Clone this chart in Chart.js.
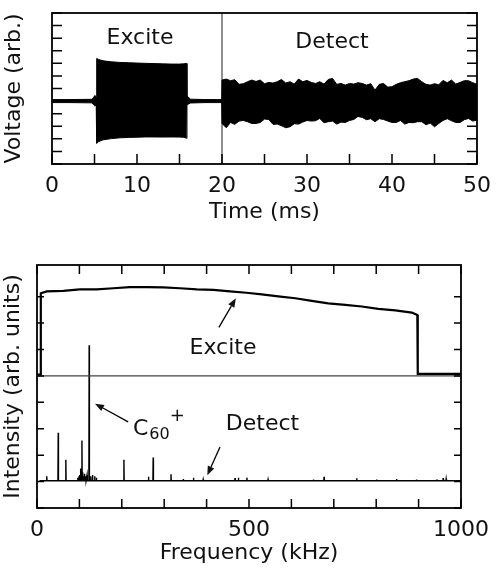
<!DOCTYPE html>
<html>
<head>
<meta charset="utf-8">
<script src="https://cdn.jsdelivr.net/npm/chart.js@4"></script>
<style>
  body { margin: 0; background: #fff; }
  #wrap { position: relative; width: 500px; height: 570px; }
  canvas { position: absolute; left: 0; }
</style>
</head>
<body>
<div id="wrap">
  <canvas id="time-chart" width="500" height="240" style="top:0"></canvas>
  <canvas id="freq-chart" width="500" height="330" style="top:240px"></canvas>
</div>
<script>
// ---- top panel: time-domain trace (envelope) ----
const burstTime  = [0, 2, 4.7, 4.9, 5.05, 5.2, 5.26, 5.5, 6, 7, 8, 9, 10, 11, 12, 13, 14, 15, 15.5, 15.84, 15.88, 16.0, 16.3, 18, 19.97];
const burstUpper = [0.12, 0.12, 0.14, 0.3, 0.45, 0.3, 3.39, 3.3, 3.2, 3.12, 3.07, 3.05, 3.02, 3.0, 2.98, 2.96, 2.94, 2.94, 2.96, 2.99, 0.4, 0.33, 0.15, 0.12, 0.12];
const burstLower = [-0.12, -0.12, -0.14, -0.3, -0.4, -0.3, -3.35, -3.22, -3.08, -2.98, -2.92, -2.89, -2.87, -2.85, -2.85, -2.86, -2.85, -2.86, -2.88, -2.95, -0.3, -0.25, -0.15, -0.12, -0.12];

const detectTime = [20, 20.5, 21, 21.5, 22, 22.5, 23, 23.5, 24, 24.5, 25, 25.5, 26, 26.5, 27, 27.5, 28, 28.5, 29, 29.5,
  30, 30.5, 31, 31.5, 32, 32.5, 33, 33.5, 34, 34.5, 35, 35.5, 36, 36.5, 37, 37.5, 38, 38.5, 39, 39.5,
  40, 40.5, 41, 41.5, 42, 42.5, 43, 43.5, 44, 44.5, 45, 45.5, 46, 46.5, 47, 47.5, 48, 48.5, 49, 49.5, 50];
const detectUpper = [1.67, 1.75, 1.62, 1.70, 1.33, 1.38, 1.54, 1.67, 1.56, 1.67, 1.38, 1.48, 1.43, 1.54, 1.72, 1.43, 1.54, 1.35, 1.75, 1.54,
  1.64, 1.48, 1.40, 1.54, 1.35, 1.72, 1.80, 1.33, 1.40, 1.27, 1.40, 1.35, 1.46, 1.40, 1.27, 1.38, 0.87, 1.33, 1.40, 1.11,
  1.14, 1.33, 1.46, 1.54, 1.62, 1.75, 1.80, 1.54, 1.33, 1.27, 1.38, 1.30, 1.64, 1.46, 1.67, 1.35, 1.48, 1.62, 1.62, 1.46, 1.33];
const detectLower = [-1.78, -2.12, -1.70, -1.85, -1.59, -1.54, -1.64, -1.78, -1.78, -1.70, -1.43, -1.46, -1.85, -1.83, -1.96, -2.12, -2.04, -1.80, -1.83, -1.67,
  -1.54, -1.59, -1.56, -1.38, -1.72, -1.64, -1.59, -1.83, -1.67, -1.70, -1.54, -1.46, -1.22, -1.30, -1.48, -1.40, -1.64, -1.40, -1.46, -1.59,
  -1.70, -1.70, -1.54, -1.83, -1.70, -1.72, -1.64, -1.64, -1.88, -1.75, -2.04, -1.78, -1.54, -1.40, -1.56, -1.70, -1.70, -1.48, -1.38, -1.59, -1.51];

const gateTime = 20;
const timeTickLabels = [0, 10, 20, 30, 40, 50];

// ---- bottom panel: spectra ----
const exciteFreq  = [0, 8, 9, 23, 62, 101, 141, 180, 219, 259, 298, 337, 377, 416, 455, 494, 530, 569, 609, 648, 687, 727, 766, 805, 845, 884, 897, 898, 1000];
const exciteLevel = [5.05, 5.05, 8.13, 8.2, 8.22, 8.28, 8.28, 8.32, 8.36, 8.36, 8.35, 8.32, 8.28, 8.26, 8.2, 8.15, 8.09, 8.01, 7.94, 7.84, 7.75, 7.69, 7.63, 7.54, 7.48, 7.40, 7.31, 5.08, 5.08];
const exciteBase = 5;

const peakFreq   = [23, 50, 68, 96, 99, 101, 103, 106, 108, 110, 112, 115, 118, 123, 127, 131, 136, 140,
  205, 263, 274, 316, 345, 369, 392, 467, 475, 495, 545, 652, 677, 754, 801, 848, 895, 943, 958, 965];
const peakHeight = [1.20, 2.85, 1.83, 1.15, 1.2, 1.25, 1.5, 2.56, 1.35, 1.2, 1.3, 1.2, 1.25, 6.16, 1.2, 1.25, 1.2, 1.15,
  1.83, 1.18, 1.91, 1.28, 1.10, 1.15, 1.08, 1.13, 1.15, 1.15, 1.08, 1.08, 1.18, 1.13, 1.08, 1.10, 1.08, 1.08, 1.13, 1.10];
const detectBase = 1.03;
const freqTickLabels = [0, 500, 1000];

const FONT = "'DejaVu Sans', Verdana, sans-serif";
Chart.defaults.font.family = FONT;
Chart.defaults.font.size = 22;
Chart.defaults.color = "#111";

function points(xs, ys) {
  return xs.map((x, i) => ({ x: x, y: ys[i] }));
}

function onStep(v, step) {
  return Math.abs(v / step - Math.round(v / step)) < 1e-6;
}

// frame, inward ticks, and text notes with arrows
const framePlugin = {
  id: "frame",
  afterDatasetsDraw(chart, args, opts) {
    const { ctx, chartArea: a, scales } = chart;
    const xs = scales.x, ys = scales.y;
    ctx.save();
    ctx.strokeStyle = "#000";
    ctx.lineWidth = 1.5;
    ctx.beginPath();
    xs.ticks.forEach(t => {
      if (!onStep(t.value, opts.xStep)) return;
      const px = xs.getPixelForValue(t.value);
      ctx.moveTo(px, a.bottom);
      ctx.lineTo(px, a.bottom - opts.xLen);
      if (opts.xTop) {
        ctx.moveTo(px, a.top);
        ctx.lineTo(px, a.top + opts.xLen);
      }
    });
    ys.ticks.forEach(t => {
      if (!onStep(t.value, opts.yStep)) return;
      const py = ys.getPixelForValue(t.value);
      ctx.moveTo(a.left, py);
      ctx.lineTo(a.left + opts.yLen, py);
      ctx.moveTo(a.right, py);
      ctx.lineTo(a.right - opts.yLen, py);
    });
    ctx.stroke();

    ctx.lineWidth = 1.8;
    ctx.strokeRect(a.left, a.top, a.right - a.left, a.bottom - a.top);

    ctx.fillStyle = "#111";
    (opts.notes || []).forEach(n => {
      const px = xs.getPixelForValue(n.x);
      const py = ys.getPixelForValue(n.y);
      ctx.font = "22px " + FONT;
      if (!n.sub) {
        ctx.textAlign = "center";
        ctx.textBaseline = "middle";
        ctx.fillText(n.text, px, py);
        return;
      }
      ctx.textAlign = "left";
      ctx.textBaseline = "alphabetic";
      ctx.fillText(n.text, px, py);
      const w = ctx.measureText(n.text).width;
      ctx.font = "16px " + FONT;
      ctx.fillText(n.sub, px + w + 1, py + 4);
      const ws = ctx.measureText(n.sub).width;
      ctx.font = "18px " + FONT;
      ctx.fillText(n.sup, px + w + ws + 1, py - 14);
    });

    ctx.lineWidth = 1.3;
    (opts.arrows || []).forEach(ar => {
      const x0 = xs.getPixelForValue(ar.from[0]), y0 = ys.getPixelForValue(ar.from[1]);
      const x1 = xs.getPixelForValue(ar.to[0]), y1 = ys.getPixelForValue(ar.to[1]);
      const ang = Math.atan2(y1 - y0, x1 - x0);
      const hl = 9, hw = 3.5;
      const bx = x1 - hl * Math.cos(ang), by = y1 - hl * Math.sin(ang);
      ctx.beginPath();
      ctx.moveTo(x0, y0);
      ctx.lineTo(bx, by);
      ctx.stroke();
      ctx.beginPath();
      ctx.moveTo(x1, y1);
      ctx.lineTo(bx + hw * Math.sin(ang), by - hw * Math.cos(ang));
      ctx.lineTo(bx - hw * Math.sin(ang), by + hw * Math.cos(ang));
      ctx.closePath();
      ctx.fill();
    });
    ctx.restore();
  }
};

function lineSet(data, color, width, extra) {
  return Object.assign({
    data: data,
    borderColor: color,
    backgroundColor: color,
    borderWidth: width,
    pointRadius: 0,
    tension: 0,
    fill: false,
  }, extra || {});
}

// ---------- top chart ----------
const timeMin = 0, timeMax = 50, voltMin = -5, voltMax = 7;

const upperTrace = points(burstTime.concat(detectTime), burstUpper.concat(detectUpper));
const lowerTrace = points(burstTime.concat(detectTime), burstLower.concat(detectLower));

new Chart(document.getElementById("time-chart"), {
  type: "line",
  data: {
    datasets: [
      lineSet(upperTrace, "#000", 1, { fill: "+1" }),
      lineSet(lowerTrace, "#000", 1),
      lineSet([{ x: gateTime, y: voltMin }, { x: gateTime, y: voltMax }], "#444", 1.2),
    ],
  },
  options: {
    responsive: false,
    animation: false,
    events: [],
    devicePixelRatio: 1,
    layout: { padding: { top: 13, right: 23, left: 0, bottom: 0 } },
    scales: {
      x: {
        type: "linear",
        min: timeMin,
        max: timeMax,
        grid: { display: false },
        border: { display: false },
        ticks: {
          stepSize: 5,
          autoSkip: false,
          maxRotation: 0,
          padding: 1,
          callback: v => (timeTickLabels.includes(v) ? v : ""),
        },
        title: { display: true, text: "Time (ms)", padding: { top: 0, bottom: 15 } },
        afterFit: s => { s.height = 76; },
      },
      y: {
        type: "linear",
        min: voltMin,
        max: voltMax,
        grid: { display: false },
        border: { display: false },
        ticks: { display: false, stepSize: 1 },
        title: { display: true, text: "Voltage (arb.)", padding: { top: 1, bottom: 0 } },
        afterFit: s => { s.width = 52; },
      },
    },
    plugins: {
      legend: { display: false },
      tooltip: { enabled: false },
      frame: {
        xStep: 5, xLen: 10, xTop: false,
        yStep: 1, yLen: 10,
        notes: [
          { text: "Excite", x: 10.35, y: 5.0 },
          { text: "Detect", x: 32.94, y: 4.69 },
        ],
      },
    },
  },
  plugins: [framePlugin],
});

// ---------- bottom chart ----------
const freqMin = 0, freqMax = 1000, intMin = 0, intMax = 9.2;

const detectTrace = [{ x: 6, y: detectBase }];
peakFreq.forEach((f, i) => {
  detectTrace.push({ x: f - 0.6, y: detectBase });
  detectTrace.push({ x: f, y: peakHeight[i] });
  detectTrace.push({ x: f + 0.6, y: detectBase });
});
detectTrace.push({ x: freqMax, y: detectBase });

new Chart(document.getElementById("freq-chart"), {
  type: "line",
  data: {
    datasets: [
      lineSet([{ x: freqMin, y: exciteBase }, { x: freqMax, y: exciteBase }], "#444", 1.2),
      lineSet(points(exciteFreq, exciteLevel), "#000", 2.2),
      lineSet(detectTrace, "#000", 1.4),
    ],
  },
  options: {
    responsive: false,
    animation: false,
    events: [],
    devicePixelRatio: 1,
    layout: { padding: { top: 25, right: 39, left: 0, bottom: 0 } },
    scales: {
      x: {
        type: "linear",
        min: freqMin,
        max: freqMax,
        grid: { display: false },
        border: { display: false },
        ticks: {
          stepSize: 100,
          autoSkip: false,
          maxRotation: 0,
          padding: 1,
          callback: v => (freqTickLabels.includes(v) ? v : ""),
        },
        title: { display: true, text: "Frequency (kHz)", padding: { top: 0, bottom: 4 } },
        afterFit: s => { s.height = 62; },
      },
      y: {
        type: "linear",
        min: intMin,
        max: intMax,
        grid: { display: false },
        border: { display: false },
        ticks: { display: false, stepSize: 1 },
        title: { display: true, text: "Intensity (arb. units)", padding: { top: 0, bottom: 0 } },
        afterFit: s => { s.width = 37; },
      },
    },
    plugins: {
      legend: { display: false },
      tooltip: { enabled: false },
      frame: {
        xStep: 100, xLen: 9, xTop: true,
        yStep: 1, yLen: 7,
        notes: [
          { text: "Excite", x: 438.7, y: 6.05 },
          { text: "Detect", x: 531.8, y: 3.17 },
          { text: "C", sub: "60", sup: "+", x: 226.4, y: 2.75 },
        ],
        arrows: [
          { from: [429, 6.84], to: [469, 7.94] },
          { from: [215, 3.26], to: [136.8, 3.95] },
          { from: [431.6, 2.31], to: [401.7, 1.24] },
        ],
      },
    },
  },
  plugins: [framePlugin],
});
</script>
</body>
</html>
